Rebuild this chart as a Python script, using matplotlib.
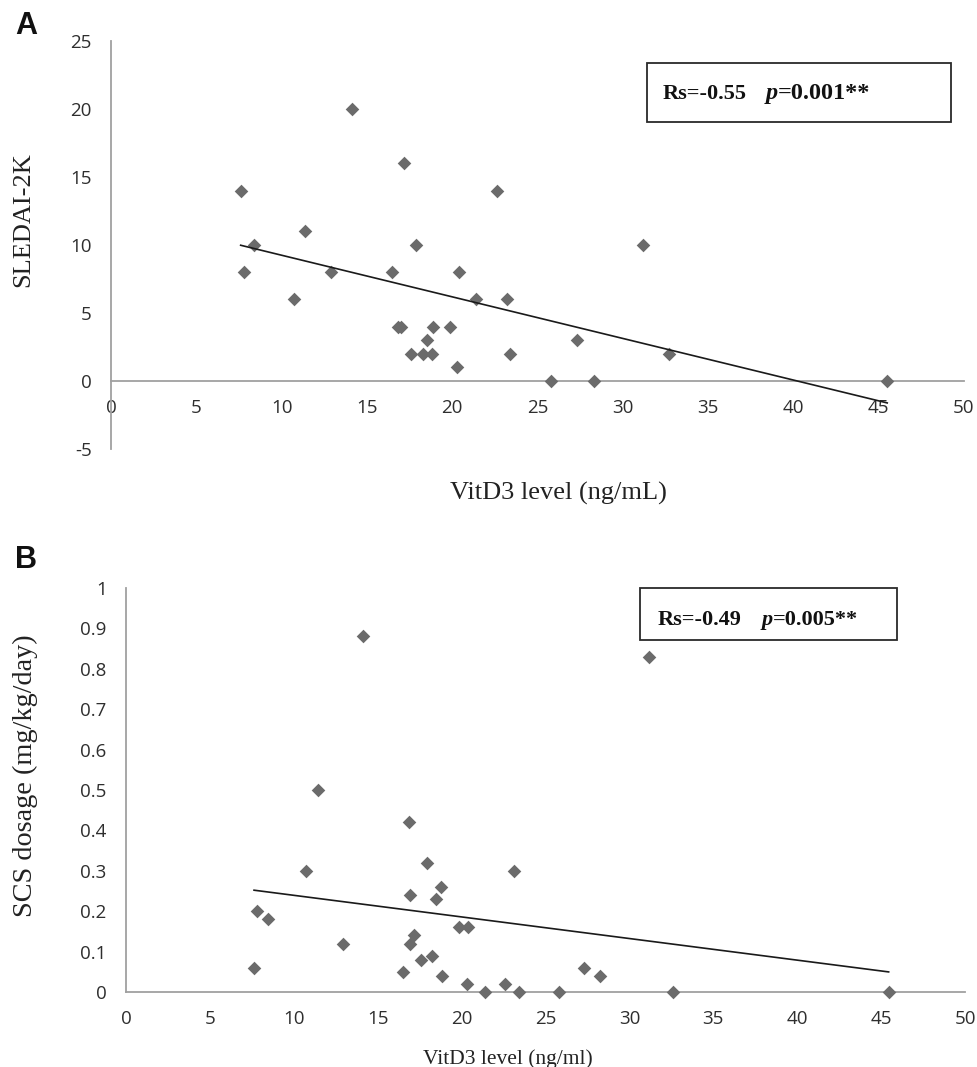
import numpy as np
import matplotlib
matplotlib.use("Agg")
import matplotlib.pyplot as plt
from matplotlib.patches import Rectangle

# ---------------- data ----------------
vitd_a = [7.6, 7.8, 8.4, 10.7, 11.4, 12.9, 14.1, 16.5, 16.8, 17.0, 17.2, 17.6, 17.9, 18.3, 18.5,
          18.8, 18.9, 19.85, 20.3, 20.4, 21.4, 22.6, 23.2, 23.4, 25.8, 27.3, 28.3, 31.2, 32.7, 45.5]
sledai = [14, 8, 10, 6, 11, 8, 20, 8, 4, 4, 16, 2, 10, 2, 3,
          2, 4, 4, 1, 8, 6, 14, 6, 2, 0, 3, 0, 10, 2, 0]

vitd_b = [7.63, 7.79, 8.44, 10.75, 11.46, 12.93, 14.1, 16.5, 16.85, 16.9, 16.9, 17.14, 17.6, 17.94,
          18.26, 18.45, 18.8, 18.83, 19.85, 20.3, 20.4, 21.4, 22.6, 23.14, 23.4, 25.8, 27.3, 28.25,
          31.15, 32.6, 45.45]
scs = [0.06, 0.20, 0.18, 0.30, 0.50, 0.12, 0.88, 0.05, 0.42, 0.24, 0.12, 0.14, 0.08, 0.32,
       0.09, 0.23, 0.26, 0.04, 0.16, 0.02, 0.16, 0.00, 0.02, 0.30, 0.00, 0.00, 0.06, 0.04,
       0.83, 0.00, 0.00]

xticks = [0, 5, 10, 15, 20, 25, 30, 35, 40, 45, 50]
yticks_a = [-5, 0, 5, 10, 15, 20, 25]
yticks_b = [0, 0.1, 0.2, 0.3, 0.4, 0.5, 0.6, 0.7, 0.8, 0.9, 1]

label_a = "A"
label_b = "B"
xlabel_a = "VitD3 level (ng/mL)"
xlabel_b = "VitD3 level (ng/ml)"
ylabel_a = "SLEDAI-2K"
ylabel_b = "SCS dosage (mg/kg/day)"
stat_a = ("Rs=-0.55", "p", "=0.001**")
stat_b = ("Rs=-0.49", "p", "=0.005**")

# ---------------- styling ----------------
W, H = 977, 1067
AX_GRAY = "#a0a0a0"
MARK = "#6b6b6b"
TICK_COL = "#2e2e2e"
TICK_FONT = ["Open Sans", "DejaVu Sans"]
SERIF = ["Liberation Serif", "DejaVu Serif"]
LETTER_FONT = ["Liberation Sans Narrow", "Liberation Sans", "DejaVu Sans"]

fig = plt.figure(figsize=(W / 100, H / 100), dpi=100)


def fx(x):
    return x / W


def fy(y):
    return 1 - y / H


def style_axes(ax, yticks, yfmt):
    for s in ("top", "right"):
        ax.spines[s].set_visible(False)
    ax.spines["left"].set_color(AX_GRAY)
    ax.spines["left"].set_linewidth(1.3)
    ax.spines["bottom"].set_color(AX_GRAY)
    ax.spines["bottom"].set_linewidth(1.3)
    ax.spines["bottom"].set_position(("data", 0))
    ax.set_xticks(xticks)
    ax.set_xticklabels([str(t) for t in xticks])
    ax.set_yticks(yticks)
    ax.set_yticklabels([yfmt(t) for t in yticks])
    ax.tick_params(axis="x", length=0, pad=13, labelsize=13.5, labelcolor=TICK_COL)
    ax.tick_params(axis="y", length=0, pad=14, labelsize=13.5, labelcolor=TICK_COL)
    for lab in ax.get_xticklabels() + ax.get_yticklabels():
        lab.set_fontfamily(TICK_FONT)
    ax.patch.set_alpha(0)


def stat_box(x0, y0, x1, y1, tx, ty, px, parts, size, psize):
    fig.patches.append(Rectangle((fx(x0), fy(y1)), fx(x1) - fx(x0), fy(y0) - fy(y1),
                                 transform=fig.transFigure, fill=False,
                                 edgecolor="#2a2a2a", linewidth=1.3))
    fig.text(fx(tx), fy(ty), parts[0], family=SERIF, weight="bold", size=size,
             va="baseline", ha="left", color="#111111")
    t2 = fig.text(fx(px), fy(ty), parts[1], family=SERIF, weight="bold", style="italic",
                  size=psize, va="baseline", ha="left", color="#111111")
    fig.texts.append(plt.Annotation(parts[2], xy=(1, 0), xycoords=t2, va="bottom",
                                    ha="left", family=SERIF, weight="bold", size=psize,
                                    color="#111111"))
    fig.texts[-1].set_figure(fig)


# ---------------- Panel A ----------------
axA = fig.add_axes([fx(111), fy(449), fx(964) - fx(111), fy(41) - fy(449)])
axA.set_xlim(0, 50)
axA.set_ylim(-5, 25)
style_axes(axA, yticks_a, lambda v: f"{v:g}")
axA.scatter(vitd_a, sledai, marker="D", s=48, color=MARK, linewidths=0, zorder=3, clip_on=False)
ka, ba = np.polyfit(vitd_a, sledai, 1)
xa = np.array([min(vitd_a), max(vitd_a)])
axA.plot(xa, ka * xa + ba, color="#1a1a1a", lw=1.2, zorder=4, clip_on=False)

fig.text(fx(15), fy(26), label_a, family=LETTER_FONT, weight="bold", size=22,
         va="center", ha="left", color="#111111")
fig.text(fx(558), fy(493), xlabel_a, family=SERIF, size=19, va="center", ha="center",
         color="#222222")
fig.text(fx(23), fy(220), ylabel_a, family=SERIF, size=19, va="center", ha="center",
         rotation=90, color="#222222")
stat_box(647, 63, 951, 122, 663, 99, 766, stat_a, 16, 17.5)

# ---------------- Panel B ----------------
axB = fig.add_axes([fx(126), fy(992), fx(965) - fx(126), fy(588) - fy(992)])
axB.set_xlim(0, 50)
axB.set_ylim(0, 1)
style_axes(axB, yticks_b, lambda v: f"{v:g}")
axB.scatter(vitd_b, scs, marker="D", s=48, color=MARK, linewidths=0, zorder=3, clip_on=False)
kb, bb = np.polyfit(vitd_b, scs, 1)
xb = np.array([min(vitd_b), max(vitd_b)])
axB.plot(xb, kb * xb + bb, color="#1a1a1a", lw=1.2, zorder=4, clip_on=False)

fig.text(fx(15), fy(560), label_b, family=LETTER_FONT, weight="bold", size=22,
         va="center", ha="left", color="#111111")
fig.text(fx(508), fy(1049), xlabel_b, family=SERIF, size=15.5, va="top", ha="center",
         color="#222222")
fig.text(fx(25), fy(776), ylabel_b, family=SERIF, size=20.3, va="center", ha="center",
         rotation=90, color="#222222")
stat_box(640, 588, 897, 640, 658, 625, 762, stat_b, 16, 16)

fig.savefig("out.png", dpi=100)
